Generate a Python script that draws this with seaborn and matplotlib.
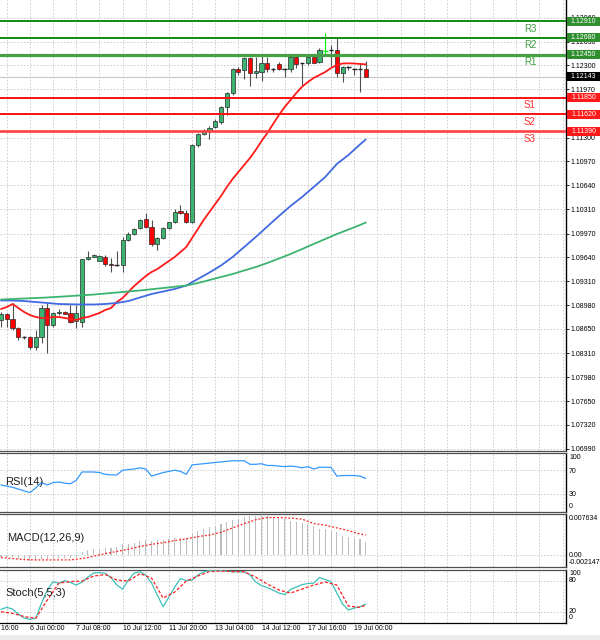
import numpy as np
import pandas as pd
import matplotlib
matplotlib.use("Agg")
import matplotlib.pyplot as plt
import matplotlib.transforms as mtransforms
from matplotlib.patches import Rectangle
import seaborn as sns

# ---------------- data ----------------
bar_open = [1.08773, 1.08852, 1.08787, 1.08662, 1.08538, 1.08531, 1.08399, 1.08542, 1.08935, 1.08704,
            1.08866, 1.08888, 1.08866, 1.08763, 1.08750, 1.09614, 1.09650, 1.09594, 1.09650, 1.09549,
            1.09535, 1.09531, 1.09881, 1.09964, 1.10043, 1.10168, 1.10065, 1.09826, 1.09905, 1.10043,
            1.10126, 1.10283, 1.10259, 1.10126, 1.11197, 1.11349, 1.11391, 1.11442, 1.11520, 1.11719,
            1.11913, 1.12245, 1.12236, 1.12398, 1.12190, 1.12212, 1.12328, 1.12249, 1.12314, 1.12249,
            1.12245, 1.12420, 1.12328, 1.12328, 1.12411, 1.12342, 1.12503, 1.12513, 1.12513, 1.12198,
            1.12273, 1.12245, 1.12249, 1.12245]
bar_high = [1.08884, 1.08870, 1.09008, 1.08676, 1.08558, 1.08545, 1.08635, 1.08981, 1.09008, 1.08888,
            1.08921, 1.08898, 1.08981, 1.08981, 1.09625, 1.09729, 1.09691, 1.09677, 1.09673, 1.09632,
            1.09729, 1.09923, 1.09996, 1.10043, 1.10172, 1.10259, 1.10158, 1.09927, 1.10065, 1.10135,
            1.10306, 1.10366, 1.10297, 1.11211, 1.11359, 1.11414, 1.11460, 1.11553, 1.11737, 1.11935,
            1.12259, 1.12281, 1.12420, 1.12411, 1.12420, 1.12443, 1.12411, 1.12267, 1.12350, 1.12263,
            1.12443, 1.12443, 1.12337, 1.12429, 1.12420, 1.12536, 1.12744, 1.12582, 1.12675, 1.12291,
            1.12291, 1.12267, 1.12328, 1.12360]
bar_low = [1.08676, 1.08676, 1.08635, 1.08496, 1.08510, 1.08378, 1.08358, 1.08454, 1.08320, 1.08680,
           1.08842, 1.08852, 1.08727, 1.08658, 1.08676, 1.09604, 1.09641, 1.09586, 1.09521, 1.09442,
           1.09521, 1.09438, 1.09867, 1.09950, 1.10033, 1.10043, 1.09802, 1.09743, 1.09891, 1.10033,
           1.10112, 1.10237, 1.10112, 1.10116, 1.11173, 1.11335, 1.11276, 1.11428, 1.11488, 1.11612,
           1.11889, 1.12166, 1.12107, 1.12014, 1.12121, 1.12087, 1.12208, 1.12212, 1.12236, 1.12134,
           1.12212, 1.12259, 1.12014, 1.12305, 1.12328, 1.12328, 1.12443, 1.12291, 1.12134, 1.12074,
           1.12236, 1.12166, 1.11935, 1.12143]
bar_close = [1.08856, 1.08791, 1.08662, 1.08538, 1.08531, 1.08399, 1.08542, 1.08943, 1.08704, 1.08874,
             1.08888, 1.08860, 1.08750, 1.08866, 1.09614, 1.09650, 1.09677, 1.09655, 1.09549, 1.09531,
             1.09528, 1.09881, 1.09964, 1.10033, 1.10158, 1.10057, 1.09826, 1.09905, 1.10043, 1.10126,
             1.10273, 1.10255, 1.10126, 1.11197, 1.11349, 1.11391, 1.11436, 1.11533, 1.11719, 1.11921,
             1.12245, 1.12208, 1.12398, 1.12190, 1.12226, 1.12328, 1.12245, 1.12245, 1.12254, 1.12245,
             1.12420, 1.12319, 1.12324, 1.12411, 1.12337, 1.12513, 1.12508, 1.12508, 1.12198, 1.12281,
             1.12268, 1.12240, 1.12245, 1.12143]

# moving averages (red = fast, blue = middle, green = slow)
ma_fast = [1.08925, 1.08953, 1.08995, 1.08939, 1.08884, 1.08842, 1.08815, 1.08801, 1.08801, 1.08815,
           1.08815, 1.08801, 1.08787, 1.08773, 1.08801, 1.08815, 1.08842, 1.08870, 1.08912, 1.08939,
           1.09022, 1.09078, 1.09161, 1.09244, 1.09313, 1.09382, 1.09438, 1.09479, 1.09535, 1.09590,
           1.09646, 1.09715, 1.09784, 1.09909, 1.10033, 1.10158, 1.10269, 1.10380, 1.10490, 1.10615,
           1.10726, 1.10823, 1.10920, 1.11017, 1.11128, 1.11252, 1.11363, 1.11488, 1.11612, 1.11723,
           1.11820, 1.11917, 1.12004, 1.12069, 1.12125, 1.12166, 1.12208, 1.12263, 1.12305, 1.12326,
           1.12328, 1.12326, 1.12319, 1.12314]
ma_mid_bars = list(range(0, 63, 2)) + [63]
ma_mid = [1.09043, 1.09043, 1.09036, 1.09022, 1.09009, 1.08995, 1.08991, 1.08988, 1.08988, 1.08995,
          1.09009, 1.09036, 1.09085, 1.09133, 1.09168, 1.09203, 1.09251, 1.09341, 1.09431, 1.09528,
          1.09646, 1.09784, 1.09923, 1.10068, 1.10213, 1.10352, 1.10477, 1.10615, 1.10754, 1.10934,
          1.11058, 1.11204, 1.11273]
ma_slow_bars = [0, 4, 8, 12, 16, 20, 24, 28, 32] + list(range(34, 63, 2)) + [63]
ma_slow = [1.09057, 1.09071, 1.09085, 1.09105, 1.09126, 1.09154, 1.09182, 1.09216, 1.09251,
           1.09285, 1.09327, 1.09369, 1.09410, 1.09459, 1.09507, 1.09563, 1.09625, 1.09687, 1.09756,
           1.09826, 1.09895, 1.09964, 1.10026, 1.10089, 1.10123]

# pivot levels
level_names = ["R3", "R2", "R1", "S1", "S2", "S3"]
level_values = [1.12910, 1.12680, 1.12450, 1.11850, 1.11620, 1.11390]
last_price = 1.12143
price_ticks = [1.12960, 1.12630, 1.12300, 1.11970, 1.11640, 1.11300, 1.10970, 1.10640, 1.10310,
               1.09970, 1.09640, 1.09310, 1.08980, 1.08650, 1.08310, 1.07980, 1.07650, 1.07320, 1.06990]

# RSI(14)
rsi = [45, 43, 41, 38, 35, 32, 40, 49, 45, 49,
       50, 48, 47, 53, 67, 67, 67, 66, 63, 62,
       62, 70, 71, 72, 74, 72, 60, 63, 66, 68,
       70, 68, 63, 79, 80, 81, 82, 83, 84, 85,
       86, 86, 86, 80, 80, 81, 78, 78, 77, 76,
       77, 76, 74, 76, 72, 75, 75, 75, 60, 61,
       61, 61, 60, 56]

# MACD(12,26,9)
macd_hist = [-0.0003, -0.0003, -0.0004, -0.0006, -0.0008, -0.0010, -0.0010, -0.0007, -0.0007, -0.0006,
             -0.0005, -0.0005, -0.0005, -0.0004, 0.0006, 0.0009, 0.0011, 0.0012, 0.0013, 0.0014,
             0.0015, 0.0020, 0.0021, 0.0023, 0.0026, 0.0027, 0.0026, 0.0027, 0.0028, 0.0029,
             0.0031, 0.0032, 0.0032, 0.0038, 0.0044, 0.0048, 0.0051, 0.0054, 0.0057, 0.0061,
             0.0064, 0.0067, 0.0070, 0.0071, 0.0071, 0.0071, 0.0071, 0.0070, 0.0069, 0.0066,
             0.0063, 0.0061, 0.0059, 0.0057, 0.0053, 0.0048, 0.0048, 0.0045, 0.0042, 0.0035,
             0.0034, 0.0031, 0.0029, 0.0024]
macd_sig_bars = list(range(0, 63, 2)) + [63]
macd_sig = [-0.0004, -0.0006, -0.0008, -0.00085, -0.00085, -0.00085, -0.00085, -0.0006, -0.0002, 0.0003,
            0.0007, 0.0011, 0.0016, 0.0020, 0.0023, 0.0027, 0.0030, 0.0034, 0.0037, 0.0042,
            0.0050, 0.0058, 0.0065, 0.0069, 0.0069, 0.0068, 0.0066, 0.0058, 0.0055, 0.0050,
            0.0045, 0.0039, 0.0037]
macd_max, macd_min = 0.007634, -0.002147

# Stoch(5,5,3)
stoch_main = [24.6, 28.4, 25.0, 15.5, 7.7, 5.2, 7.2, 36.8, 61.9, 78.0,
              74.9, 80.3, 76.4, 71.6, 77.4, 87.0, 94.8, 95.7, 94.2, 86.0,
              71.6, 63.8, 81.2, 94.8, 97.3, 91.0, 75.4, 52.2, 29.6, 48.4,
              67.7, 84.1, 80.3, 81.2, 90.9, 97.3, 99.6, 100.0, 99.6, 98.6,
              97.3, 97.3, 97.3, 91.0, 77.4, 70.6, 66.7, 61.9, 56.1, 53.2,
              62.9, 67.7, 72.5, 74.5, 75.4, 86.1, 82.2, 78.3, 56.1, 34.8,
              23.2, 27.1, 29.6, 34.8]
stoch_sig_bars = list(range(0, 63, 2)) + [63]
stoch_sig = [19.9, 16.8, 10.6, 7.2, 42.6, 75.4, 78.3, 79.3, 89.0, 91.9,
             81.2, 79.3, 93.8, 85.1, 46.4, 58.0, 79.3, 89.0, 97.7, 98.6,
             97.7, 97.3, 87.0, 73.5, 61.9, 56.1, 63.8, 71.6, 77.4, 71.6,
             30.9, 28.4, 32.9]

time_labels = ["4 Jul 16:00", "6 Jul 00:00", "7 Jul 08:00", "10 Jul 12:00", "11 Jul 20:00",
               "13 Jul 04:00", "14 Jul 12:00", "17 Jul 16:00", "19 Jul 00:00"]
time_label_bars = [-3, 5, 13, 21, 29, 37, 45, 53, 61]
lime_bars = [56]

# ---------------- figure ----------------
sns.set_theme(style="white")
plt.rcParams["font.family"] = ["Liberation Sans", "DejaVu Sans"]

W, H = 600, 640
PLOT_W = 566
fig = plt.figure(figsize=(W / 100, H / 100), dpi=100)
fig.patch.set_facecolor("white")


def panel(top, bottom):
    return fig.add_axes([0, 1 - bottom / H, PLOT_W / W, (bottom - top) / H])


ax = panel(0, 450.5)
ax_rsi = panel(452.5, 511.5)
ax_macd = panel(513.5, 567)
ax_st = panel(569.5, 623)

BAR_PX = 5.79
X0_PX = 1.0
xlim = (-X0_PX / BAR_PX, (PLOT_W - X0_PX) / BAR_PX)
grid_kw = dict(color="#c8c8c8", linestyle=(0, (2, 2)), linewidth=0.6)
LBL = 5

for a in (ax, ax_rsi, ax_macd, ax_st):
    a.set_facecolor("white")
    a.set_xlim(*xlim)
    a.set_xticks(np.arange(1, 98, 4))
    a.tick_params(axis="x", length=0, labelbottom=False)
    a.grid(axis="x", **grid_kw)
    a.set_axisbelow(True)
    a.spines["left"].set_visible(False)
    a.spines["right"].set_color("black")
    a.spines["right"].set_linewidth(1.0)
    for s in ("top", "bottom"):
        a.spines[s].set_color("#505050")
        a.spines[s].set_linewidth(0.9)
    a.set_xlabel("")
    a.set_ylabel("")
ax.spines["top"].set_visible(False)
ax_st.spines["bottom"].set_color("black")

# ---- main price panel ----
ymin, ymax = 1.06966, 1.13205
ax.set_ylim(ymin, ymax)
price_per_px = (ymax - ymin) / 450.5
ax.yaxis.tick_right()
ax.set_yticks(price_ticks)
ax.set_yticklabels([f"{t:.5f}" for t in price_ticks])
ax.tick_params(axis="y", labelsize=LBL, length=2, width=0.6, pad=1.5, colors="black")
ax.grid(axis="y", **grid_kw)

idx = np.arange(len(bar_open))
o = np.array(bar_open)
h = np.array(bar_high)
l = np.array(bar_low)
c = np.array(bar_close)
doji = np.abs(c - o) < 0.00008
wick_cols = ["#00ff00" if i in lime_bars else "#505050" for i in idx]
ax.vlines(idx, l, h, colors=wick_cols, linewidth=0.8, zorder=2)
nb = ~doji
face = np.where(c >= o, "#3cb371", "#ff0000")
ax.bar(idx[nb], np.abs(c - o)[nb], bottom=np.minimum(o, c)[nb], width=0.72,
       color=face[nb], edgecolor="#2a2a2a", linewidth=0.5, zorder=3)
for i in idx[doji]:
    col = "#00ff00" if i in lime_bars else "#202020"
    ax.hlines((o[i] + c[i]) / 2, i - 0.4, i + 0.4, colors=col, linewidth=1.0, zorder=3)

sns.lineplot(x=list(idx), y=ma_fast, ax=ax, color="#ff1a1a", linewidth=1.3, zorder=4)
sns.lineplot(x=ma_mid_bars, y=ma_mid, ax=ax, color="#4169e1", linewidth=1.3, zorder=4)
sns.lineplot(x=ma_slow_bars, y=ma_slow, ax=ax, color="#3cb371", linewidth=1.3, zorder=4)

ax.axhline(last_price, color="#c8c8c8", linewidth=0.8, zorder=1.5)

blend = mtransforms.blended_transform_factory(ax.transAxes, ax.transData)


def price_box(a, tr, y, txt, color, hdata):
    a.add_patch(Rectangle((1 + 1 / PLOT_W, y - hdata / 2), 34 / PLOT_W, hdata, transform=tr,
                          facecolor=color, edgecolor="none", clip_on=False, zorder=10))
    a.text(1 + 17.5 / PLOT_W, y, txt, transform=tr, color="white", fontsize=LBL,
           ha="center", va="center", zorder=11, clip_on=False)


line_style = {"R3": ("#118a11", 1.4), "R2": ("#118a11", 1.4), "R1": ("#44a244", 2.3),
              "S1": ("#ff1010", 1.4), "S2": ("#ff1010", 1.4), "S3": ("#ff4040", 1.9)}
box_col = {"R": "#2f8f2f", "S": "#ff1a1a"}
txt_col = {"R": "#3f9f3f", "S": "#ff3030"}
for name, val in zip(level_names, level_values):
    col, lw = line_style[name]
    ax.axhline(val, color=col, linewidth=lw, zorder=5)
    ax.annotate(name, xy=(530 / PLOT_W, val), xycoords=blend, xytext=(0, -7.5 * 0.72),
                textcoords="offset points", ha="center", va="center", fontsize=7,
                color=txt_col[name[0]], zorder=6)
    price_box(ax, blend, val, f"{val:.5f}", box_col[name[0]], 9 * price_per_px)
price_box(ax, blend, last_price, f"{last_price:.5f}", "black", 9 * price_per_px)


def side_label(a, y, txt, dy_px):
    tr = mtransforms.blended_transform_factory(a.transAxes, a.transData)
    a.annotate(txt, xy=(1, y), xycoords=tr, xytext=(2.2, -dy_px * 0.72), textcoords="offset points",
               fontsize=LBL, ha="left", va="center", annotation_clip=False, color="black")


# ---- RSI ----
ax_rsi.set_ylim(0, 100)
ax_rsi.set_yticks([70, 30])
ax_rsi.tick_params(axis="y", length=0, labelleft=False, labelright=False)
ax_rsi.grid(axis="y", **grid_kw)
sns.lineplot(x=list(idx), y=rsi, ax=ax_rsi, color="#3399ff", linewidth=0.9)
for v, t, d in [(100, "100", 5.2), (70, "70", 1.5), (30, "30", 1.2), (0, "0", -4.8)]:
    side_label(ax_rsi, v, t, d)
ax_rsi.text(5 / PLOT_W, 0.5, "RSI(14)", transform=ax_rsi.transAxes, fontsize=8,
            ha="left", va="center", color="#202020")

# ---- MACD ----
ax_macd.set_ylim(macd_min, macd_max)
ax_macd.set_yticks([0])
ax_macd.tick_params(axis="y", length=0, labelleft=False, labelright=False)
ax_macd.grid(axis="y", **grid_kw)
ax_macd.bar(idx, macd_hist, width=0.18, color="#bdbdbd", linewidth=0, zorder=2)
sns.lineplot(x=macd_sig_bars, y=macd_sig, ax=ax_macd, color="#ff2020", linewidth=0.9,
             linestyle=(0, (1.5, 1.5)), zorder=3)
for v, t, d in [(macd_max, f"{macd_max:.6f}", 4.8), (0, "0.00", 0), (macd_min, f"{macd_min:.6f}", -4.3)]:
    side_label(ax_macd, v, t, d)
ax_macd.text(7 / PLOT_W, 0.55, "MACD(12,26,9)", transform=ax_macd.transAxes, fontsize=8,
             ha="left", va="center", color="#202020")

# ---- Stochastic ----
ax_st.set_ylim(-1.9, 101.7)
ax_st.set_yticks([80, 20])
ax_st.tick_params(axis="y", length=0, labelleft=False, labelright=False)
ax_st.grid(axis="y", **grid_kw)
sns.lineplot(x=list(idx), y=stoch_main, ax=ax_st, color="#3cc0b8", linewidth=0.9, zorder=3)
sns.lineplot(x=stoch_sig_bars, y=stoch_sig, ax=ax_st, color="#ff2020", linewidth=0.9,
             linestyle=(0, (2.5, 1.5)), zorder=3)
for v, t, d in [(100, "100", 3.6), (80, "80", 0), (20, "20", 0), (0, "0", -4.3)]:
    side_label(ax_st, v, t, d)
ax_st.text(5 / PLOT_W, 0.56, "Stoch(5,5,3)", transform=ax_st.transAxes, fontsize=8,
           ha="left", va="center", color="#202020")

# time axis labels
tr_t = mtransforms.blended_transform_factory(ax_st.transData, ax_st.transAxes)
for b, t in zip(time_label_bars, time_labels):
    ax_st.text(b, -(629 - 623) / 53.5, t, transform=tr_t, fontsize=LBL, ha="left",
               va="center", clip_on=False, color="black")

for a in (ax, ax_rsi, ax_macd, ax_st):
    a.set_xlabel("")
    a.set_ylabel("")

fig.add_artist(Rectangle((0, 0), 1, 5 / H, transform=fig.transFigure, facecolor="#ececec",
                         edgecolor="none"))

fig.savefig("out.png", dpi=100)
